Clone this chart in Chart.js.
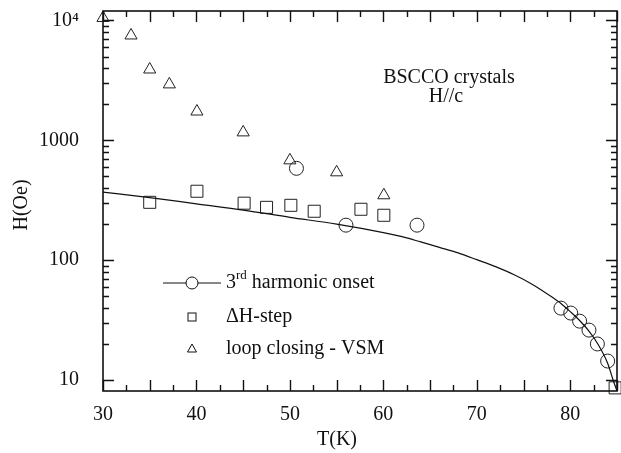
<!DOCTYPE html>
<html>
<head>
<meta charset="utf-8">
<script src="https://cdn.jsdelivr.net/npm/chart.js@4.4.1/dist/chart.umd.min.js"></script>
<style>
html,body{margin:0;padding:0;background:#fff;}
canvas{display:block;}
</style>
</head>
<body>
<canvas id="c" width="621" height="453"></canvas>
<script>
// ---- data ----
const curveT = [30, 35, 40, 45, 50, 55, 60, 62, 64, 66, 68, 70, 72, 74, 76, 78, 79, 80, 81, 82, 83, 84, 84.6, 85];
const curveH = [370, 333, 295, 262, 228, 200, 170, 157, 142, 128, 115, 101, 88.3, 75.5, 62.5, 49.5, 43.5, 37.2, 31.4, 25.6, 19.7, 13.8, 9.9, 8.1];

const harmT = [50.7, 56.0, 63.6, 79.0, 80.05, 81.0, 82.0, 82.9, 84.0];
const harmH = [584, 196, 196, 39.8, 36.2, 31, 26.1, 20, 14.4];

const stepT = [35.0, 40.05, 45.1, 47.5, 50.1, 52.6, 57.6, 60.05, 84.8];
const stepH = [304, 376, 299, 276, 287, 256, 266, 237, 8.6];

const vsmT = [30.0, 33.0, 35.0, 37.1, 40.05, 45.0, 50.0, 55.0, 60.05];
const vsmH = [10500, 7500, 3900, 2930, 1740, 1165, 681, 541, 348];

const xTickStep = 2.5;
const yTickValues = [10,20,30,40,50,60,70,80,90,100,200,300,400,500,600,700,800,900,1000,2000,3000,4000,5000,6000,7000,8000,9000,10000];
const yLabels = {10:'10', 100:'100', 1000:'1000', 10000:'10\u2074'};

const legendItems = ['harmonic onset', '\u0394H-step', 'loop closing - VSM'];

const FONT = '"Liberation Serif", "Times New Roman", serif';

function pts(xs, ys){ return xs.map((x,i)=>({x:x, y:ys[i]})); }
function isDecade(v){ const l = Math.log10(v); return Math.abs(l - Math.round(l)) < 1e-9; }

const framePlugin = {
  id: 'frame',
  afterDraw(chart){
    const ctx = chart.ctx, a = chart.chartArea;
    const xs = chart.scales.x, ys = chart.scales.y;
    ctx.save();
    ctx.strokeStyle = '#111';
    ctx.lineWidth = 1.6;
    ctx.strokeRect(a.left, a.top, a.right - a.left, a.bottom - a.top);
    ctx.lineWidth = 1.4;
    ctx.beginPath();
    xs.ticks.forEach(t => {
      const v = t.value;
      const px = Math.round(xs.getPixelForValue(v)) + 0.5;
      const len = (Math.abs(v % 5) < 1e-9) ? 11 : 6;
      ctx.moveTo(px, a.bottom); ctx.lineTo(px, a.bottom - len);
      ctx.moveTo(px, a.top); ctx.lineTo(px, a.top + len);
    });
    ys.ticks.forEach(t => {
      const v = t.value;
      const py = Math.round(ys.getPixelForValue(v)) + 0.5;
      const len = isDecade(v) ? 11 : 6;
      ctx.moveTo(a.left, py); ctx.lineTo(a.left + len, py);
      ctx.moveTo(a.right, py); ctx.lineTo(a.right - len, py);
    });
    ctx.stroke();

    // axis titles
    ctx.fillStyle = '#111';
    ctx.font = '20px ' + FONT;
    ctx.textAlign = 'center';
    ctx.textBaseline = 'middle';
    ctx.fillText('T(K)', 337, 440);
    ctx.save();
    ctx.translate(22, 205);
    ctx.rotate(-Math.PI/2);
    ctx.fillText('H(Oe)', 0, 0);
    ctx.restore();

    // annotation
    ctx.font = '20px ' + FONT;
    ctx.fillText('BSCCO crystals', 449, 78);
    ctx.fillText('H//c', 446, 97);

    // legend
    ctx.textAlign = 'left';
    const mx = 192, tx = 226;
    const r1 = 283, r2 = 317, r3 = 349;
    ctx.lineWidth = 1;
    ctx.beginPath();
    ctx.moveTo(163, r1); ctx.lineTo(221, r1);
    ctx.stroke();
    ctx.beginPath();
    ctx.fillStyle = '#fff';
    ctx.arc(mx, r1, 6, 0, Math.PI*2);
    ctx.fill(); ctx.stroke();
    ctx.fillStyle = '#111';
    ctx.strokeRect(mx - 4, r2 - 4, 8, 8);
    ctx.beginPath();
    ctx.moveTo(mx, r3 - 5); ctx.lineTo(mx + 4.5, r3 + 3); ctx.lineTo(mx - 4.5, r3 + 3); ctx.closePath();
    ctx.stroke();

    ctx.font = '20px ' + FONT;
    ctx.fillText('3', tx, r1);
    let w = ctx.measureText('3').width;
    ctx.font = '13px ' + FONT;
    ctx.fillText('rd', tx + w, r1 - 7);
    w += ctx.measureText('rd').width;
    ctx.font = '20px ' + FONT;
    ctx.fillText(' ' + legendItems[0], tx + w, r1);
    ctx.fillText(legendItems[1], tx, r2);
    ctx.fillText(legendItems[2], tx, r3);
    ctx.restore();
  }
};

new Chart(document.getElementById('c'), {
  type: 'scatter',
  data: {
    datasets: [
      {
        label: '3rd harmonic onset (fit)',
        data: pts(curveT, curveH),
        showLine: true,
        borderColor: '#111',
        borderWidth: 1.2,
        pointRadius: 0,
        cubicInterpolationMode: 'monotone',
        fill: false
      },
      {
        label: '3rd harmonic onset',
        data: pts(harmT, harmH),
        pointStyle: 'circle',
        pointRadius: 7,
        borderColor: '#222',
        borderWidth: 1,
        backgroundColor: 'rgba(0,0,0,0)',
        clip: false
      },
      {
        label: '\u0394H-step',
        data: pts(stepT, stepH),
        pointStyle: 'rect',
        pointRadius: 8.5,
        borderColor: '#222',
        borderWidth: 1,
        backgroundColor: 'rgba(0,0,0,0)',
        clip: false
      },
      {
        label: 'loop closing - VSM',
        data: pts(vsmT, vsmH),
        pointStyle: 'triangle',
        pointRadius: 7,
        borderColor: '#222',
        borderWidth: 1,
        backgroundColor: 'rgba(0,0,0,0)',
        clip: false
      }
    ]
  },
  options: {
    responsive: false,
    animation: false,
    devicePixelRatio: 1,
    layout: { autoPadding: false, padding: { top: 11, right: 4, left: 0, bottom: 0 } },
    plugins: { legend: { display: false }, tooltip: { enabled: false } },
    scales: {
      x: {
        type: 'linear',
        min: 30, max: 85,
        grid: { display: false },
        border: { display: false },
        ticks: {
          stepSize: xTickStep,
          autoSkip: false,
          maxRotation: 0,
          padding: 6,
          color: '#111',
          font: { family: FONT, size: 20, lineHeight: 1 },
          callback: v => (Math.abs(v % 10) < 1e-9 ? String(v) : '')
        },
        afterFit: s => { s.height = 62; s.paddingLeft = 0; s.paddingRight = 0; }
      },
      y: {
        type: 'logarithmic',
        min: 8.1, max: 12000,
        grid: { display: false },
        border: { display: false },
        afterBuildTicks: s => { s.ticks = yTickValues.map(v => ({ value: v })); },
        ticks: {
          autoSkip: false,
          padding: 16,
          color: '#111',
          font: { family: FONT, size: 20, lineHeight: 1 },
          callback: v => (yLabels[v] !== undefined ? yLabels[v] : '')
        },
        afterFit: s => { s.width = 103; s.paddingTop = 0; s.paddingBottom = 0; }
      }
    }
  },
  plugins: [framePlugin]
});
</script>
</body>
</html>
